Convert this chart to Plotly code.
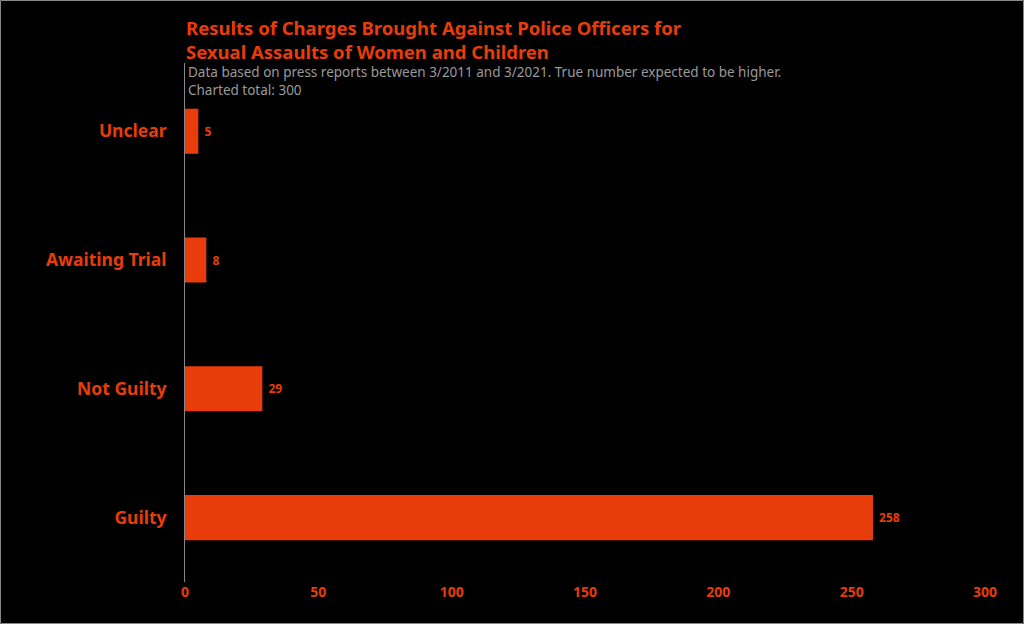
import plotly.graph_objects as go

categories = ["Guilty", "Not Guilty", "Awaiting Trial", "Unclear"]
counts = [258, 29, 8, 5]
x_ticks = [0, 50, 100, 150, 200, 250, 300]

ORANGE = "#e83c0a"
FONT = "Noto Sans"

fig = go.Figure(go.Bar(
    y=categories, x=counts, orientation="h",
    marker=dict(color=ORANGE, line=dict(width=0)),
    width=0.35,
    texttemplate="\u00a0%{x}", textposition="outside",
    textfont=dict(color=ORANGE, size=12, family=FONT, weight="bold"),
    cliponaxis=False,
))

W, H = 1024, 624
L, R, T, B = 185, 39, 63, 42
pw, ph = W - L - R, H - T - B

fig.update_layout(
    width=W, height=H,
    margin=dict(l=L, r=R, t=T, b=B),
    paper_bgcolor="black", plot_bgcolor="black",
    font=dict(family=FONT, color=ORANGE),
    showlegend=False,
    xaxis=dict(range=[0, 300], tickvals=x_ticks, showgrid=False, zeroline=False,
               showline=False, tickfont=dict(size=14, color=ORANGE, weight="bold"),
               fixedrange=True),
    yaxis=dict(categoryorder="array", categoryarray=categories, range=[-0.5, 3.53],
               showgrid=False, zeroline=False, showline=True, linecolor="#888", linewidth=1,
               ticklabelstandoff=14,
               tickfont=dict(size=17.5, color=ORANGE, weight="bold"), fixedrange=True),
    annotations=[
        dict(text="Results of Charges Brought Against Police Officers for<br>Sexual Assaults of Women and Children",
             xref="paper", yref="paper", x=(184 - L) / pw, y=(H - B - 13) / ph,
             xanchor="left", yanchor="top", align="left", showarrow=False,
             font=dict(size=18.5, color=ORANGE, family=FONT, weight="bold")),
        dict(text="Data based on press reports between 3/2011 and 3/2021. True number expected to be higher.<br>Charted total: 300",
             xref="paper", yref="paper", x=(186 - L) / pw, y=(H - B - 61) / ph,
             xanchor="left", yanchor="top", align="left", showarrow=False,
             font=dict(size=13.5, color="#9a9a9a", family=FONT)),
    ],
    shapes=[
        dict(type="rect", xref="paper", yref="paper",
             x0=(0.5 - L) / pw, x1=(W - 0.5 - L) / pw,
             y0=(H - B - (H - 0.5)) / ph, y1=(H - B - 0.5) / ph,
             line=dict(color="#888", width=1), fillcolor="rgba(0,0,0,0)", layer="below"),
    ],
)

fig.write_html("out.html", config={"displayModeBar": False},
               post_script="document.body.style.margin='0';document.body.style.background='black';")
